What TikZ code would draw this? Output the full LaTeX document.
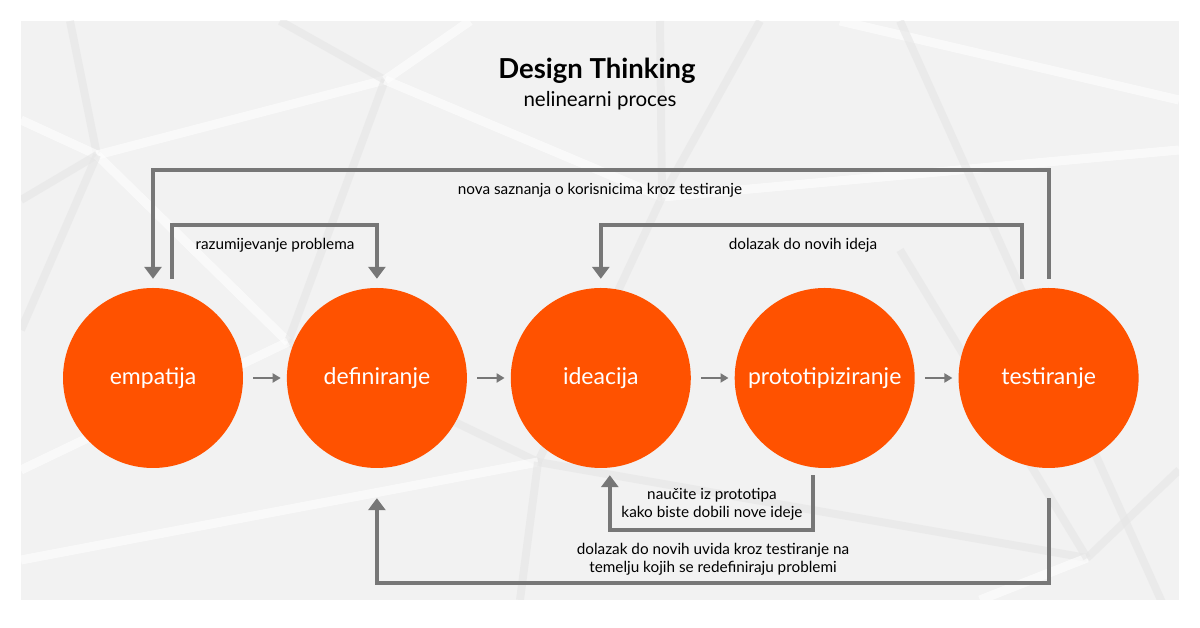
\documentclass[tikz,border=0pt]{standalone}
\usepackage{fontspec}
\setmainfont{Lato}
\usetikzlibrary{positioning}
\usetikzlibrary{calc}
\usetikzlibrary{arrows.meta}
\definecolor{phaseorange}{HTML}{FF5200}
\definecolor{loopgray}{HTML}{777777}
\definecolor{panelgray}{HTML}{F2F2F2}
\definecolor{stripegray}{HTML}{E6E6E6}

\begin{document}
\begin{tikzpicture}[x=1pt,y=1pt,node distance=43.5pt,font=\fontsize{15.3}{18}\selectfont]
	\tikzstyle{phase}=[circle,fill=phaseorange,text=white,minimum size=180pt,inner sep=0pt,font=\fontsize{23}{27}\selectfont]
	\tikzstyle{loop}=[draw=loopgray,line width=4pt,-{Triangle[width=17pt,length=12pt]}]
	\tikzstyle{next}=[draw=loopgray,line width=2pt,-{Triangle[width=9pt,length=8pt]}]
	\tikzstyle{lbl}=[text=black,align=center]
	\tikzstyle{lightstripe}=[white,line width=9pt,opacity=.6]
	\tikzstyle{darkstripe}=[stripegray,line width=8pt,opacity=.6]
	
	\useasboundingbox (0,0) rectangle (1200,628);
	\fill[white] (0,0) rectangle (1200,628);
	
	% background
	\begin{scope}[shift={(0,628)},y=-1pt]
		\fill[panelgray] (21,21) rectangle (1179,600);
		\clip (21,21) rectangle (1179,600);
		\draw[darkstripe] (70,21) -- (97,155);
		\draw[lightstripe] (97,155) -- (385,80);
		\draw[lightstripe] (97,155) -- (21,120);
		\draw[darkstripe] (97,155) -- (21,200);
		\draw[lightstripe] (97,155) -- (288,342);
		\draw[darkstripe] (97,155) -- (21,330);
		\draw[darkstripe] (385,80) -- (280,21);
		\draw[darkstripe] (385,80) -- (288,342);
		\draw[lightstripe] (385,80) -- (662,197);
		\draw[lightstripe] (385,80) -- (470,21);
		\draw[darkstripe] (662,197) -- (660,21);
		\draw[darkstripe] (662,197) -- (760,21);
		\draw[lightstripe] (662,197) -- (1179,150);
		\draw[darkstripe] (662,197) -- (538,462);
		\draw[darkstripe] (538,462) -- (288,342);
		\draw[lightstripe] (538,462) -- (21,560);
		\draw[darkstripe] (538,462) -- (520,600);
		\draw[darkstripe] (538,462) -- (1087,558);
		\draw[darkstripe] (1087,558) -- (1179,470);
		\draw[lightstripe] (1087,558) -- (980,600);
		\draw[darkstripe] (1087,558) -- (900,250);
		\draw[lightstripe] (840,21) -- (1179,100);
		\draw[darkstripe] (900,21) -- (1179,640);
		\draw[lightstripe] (288,342) -- (21,470);
	\end{scope}
	
	\node[font=\fontsize{27.5}{32}\selectfont\bfseries] (title) at (597,557) {Design Thinking};
	\node[font=\fontsize{20.5}{24}\selectfont] (sub) at (600,527) {nelinearni proces};
	
	\node[phase] (emp) at (153,250) {empatija};
	\node[phase] (def) [right=of emp] {definiranje};
	\node[phase] (idea) [right=of def] {ideacija};
	\node[phase] (proto) [right=of idea] {prototipiziranje};
	\node[phase] (test) [right=of proto] {testiranje};
	
	\path[next] ([xshift=10pt]emp.east) -- ([xshift=-6pt]def.west);
	\path[next] ([xshift=10pt]def.east) -- ([xshift=-6pt]idea.west);
	\path[next] ([xshift=10pt]idea.east) -- ([xshift=-6pt]proto.west);
	\path[next] ([xshift=10pt]proto.east) -- ([xshift=-6pt]test.west);
	
	\path[loop] ([yshift=9pt]test.north) -- ++(0,109) -| ([yshift=9pt]emp.north);
	\path[loop] ([xshift=19pt,yshift=9pt]emp.north) -- ++(0,54) -| ([yshift=9pt]def.north);
	\path[loop] ([xshift=-27pt,yshift=9pt]test.north) -- ++(0,54) -| ([yshift=9pt]idea.north);
	\path[loop] ([xshift=-12pt,yshift=-7pt]proto.south) -- ++(0,-55) -| ([xshift=9pt,yshift=-7pt]idea.south);
	\path[loop] ([yshift=-30pt]test.south) -- ++(0,-85) -| ([yshift=-30pt]def.south);
	
	\node[lbl] (l_new) at (600,438) {nova saznanja o korisnicima kroz testiranje};
	\node[lbl] (l_und) at (275,383) {razumijevanje problema};
	\node[lbl] (l_ide) at (803,383) {dolazak do novih ideja};
	\node[lbl] (l_pro) at (712,124) {naučite iz prototipa\\kako biste dobili nove ideje};
	\node[lbl] (l_ins) at (713,69) {dolazak do novih uvida kroz testiranje na\\temelju kojih se redefiniraju problemi};
\end{tikzpicture}
\end{document}
